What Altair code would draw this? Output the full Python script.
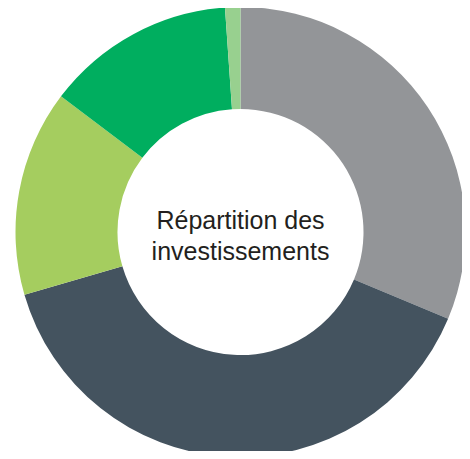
import altair as alt
import pandas as pd

categories = ["A", "B", "C", "D", "E"]
values = [31.3, 39.2, 14.8, 13.6, 1.1]
colors = ["#939598", "#44535F", "#A5CD5F", "#00AE5F", "#98D08F"]
order = [1, 2, 3, 4, 5]
center_lines = ["Répartition des", "investissements"]

df = pd.DataFrame({"cat": categories, "value": values, "ord": order})

cx, cy = 240.5 - 8, 232 - 8

arcs = alt.Chart(df).mark_arc(outerRadius=225, innerRadius=123, stroke=None).encode(
    theta=alt.Theta("value:Q", stack=True),
    order=alt.Order("ord:Q"),
    color=alt.Color("cat:N", scale=alt.Scale(domain=categories, range=colors), legend=None),
    x=alt.value(cx),
    y=alt.value(cy),
)

label = alt.Chart(pd.DataFrame({"t": [center_lines]})).mark_text(
    fontSize=25, font="Liberation Sans", color="#231F20", align="center",
    baseline="alphabetic", lineHeight=31,
).encode(
    text="t",
    x=alt.value(cx),
    y=alt.value(229 - 8),
)

chart = (arcs + label).properties(
    width=454, height=443, padding=0,
    autosize=alt.AutoSizeParams(type="none"),
).configure_view(stroke=None)

chart.save("out.html", embed_options={"renderer": "svg", "actions": False})
